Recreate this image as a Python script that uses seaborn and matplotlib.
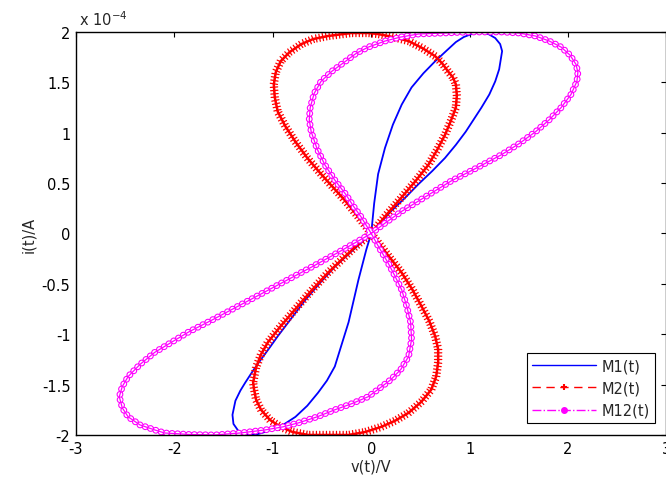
import numpy as np
import matplotlib
matplotlib.use("Agg")
import matplotlib.pyplot as plt
import matplotlib.patheffects as pe
from matplotlib.lines import Line2D
import seaborn as sns

# M1(t) - blue loop, v in V, i in 1e-4 A
v_m1 = [0, 0.03, 0.07, 0.14, 0.22, 0.31, 0.41, 0.53, 0.65, 0.76, 0.86, 0.94, 1.02, 1.10, 1.19, 1.26,
        1.31, 1.33, 1.32, 1.30, 1.26, 1.20, 1.12, 1.04, 0.96, 0.86, 0.75, 0.62, 0.48, 0.34, 0.20, 0.08, 0,
        -0.05, -0.13, -0.23, -0.30, -0.37, -0.45, -0.54, -0.65, -0.77, -0.88, -0.98, -1.08, -1.18, -1.27,
        -1.35, -1.40, -1.41, -1.38, -1.33, -1.28, -1.20, -1.12, -1.03, -0.95, -0.81, -0.67, -0.52, -0.37,
        -0.18, 0]
i_m1 = [0, 0.30, 0.59, 0.85, 1.08, 1.28, 1.45, 1.59, 1.71, 1.81, 1.90, 1.95, 1.98, 1.995, 1.98, 1.94,
        1.88, 1.81, 1.75, 1.63, 1.51, 1.38, 1.25, 1.13, 1.01, 0.88, 0.75, 0.62, 0.49, 0.35, 0.22, 0.09, 0,
        -0.16, -0.46, -0.88, -1.10, -1.32, -1.46, -1.58, -1.71, -1.82, -1.89, -1.93, -1.97, -2.0, -1.99,
        -1.96, -1.89, -1.80, -1.66, -1.56, -1.48, -1.36, -1.25, -1.13, -1.02, -0.84, -0.66, -0.49, -0.33,
        -0.16, 0]

# M2(t) - red loop
v_m2 = [0, 0.15, 0.31, 0.45, 0.58, 0.67, 0.75, 0.81, 0.86, 0.87, 0.86, 0.83, 0.78, 0.72, 0.65, 0.52,
        0.38, 0.22, 0.07, -0.03, -0.20, -0.44, -0.59, -0.71, -0.83, -0.92, -0.97, -0.99, -0.98, -0.95,
        -0.87, -0.77, -0.65, -0.51, -0.38, -0.26, -0.12, 0,
        0.15, 0.31, 0.42, 0.51, 0.59, 0.65, 0.68, 0.68, 0.66, 0.61, 0.51, 0.38, 0.24, 0.10, -0.06, -0.23,
        -0.44, -0.64, -0.80, -0.92, -1.03, -1.12, -1.17, -1.19, -1.20, -1.17, -1.12, -1.05, -0.92, -0.77,
        -0.61, -0.44, -0.30, -0.16, 0]
i_m2 = [0, 0.18, 0.36, 0.52, 0.68, 0.83, 0.98, 1.12, 1.25, 1.37, 1.48, 1.55, 1.61, 1.69, 1.76, 1.84,
        1.91, 1.95, 1.98, 1.99, 1.99, 1.96, 1.93, 1.88, 1.80, 1.71, 1.60, 1.48, 1.35, 1.21,
        1.06, 0.91, 0.75, 0.59, 0.45, 0.32, 0.15, 0,
        -0.19, -0.39, -0.56, -0.72, -0.87, -1.02, -1.15, -1.28, -1.42, -1.55, -1.67, -1.78, -1.86, -1.92,
        -1.97, -2.0, -2.0, -2.0, -1.97, -1.92, -1.85, -1.75, -1.65, -1.55, -1.48, -1.33, -1.20, -1.08,
        -0.92, -0.75, -0.57, -0.39, -0.26, -0.13, 0]

# M12(t) - magenta loop
v_m12 = [0, 0.15, 0.31, 0.56, 0.81, 1.07, 1.32, 1.50, 1.67, 1.81, 1.93, 2.03, 2.09, 2.10, 2.08, 2.02,
         1.93, 1.81, 1.67, 1.50, 1.32, 1.15, 0.99, 0.74, 0.48, 0.30, 0.14, -0.03, -0.15, -0.26, -0.40,
         -0.51, -0.58, -0.62, -0.63, -0.61, -0.55, -0.47, -0.37, -0.26, -0.18, -0.10, 0,
         0.08, 0.17, 0.24, 0.31, 0.36, 0.40, 0.41, 0.38, 0.30, 0.20, 0.08, -0.03, -0.20, -0.37, -0.55,
         -0.74, -0.90, -1.08, -1.33, -1.59, -1.85, -2.10, -2.20, -2.35, -2.47, -2.53, -2.56, -2.53, -2.47,
         -2.35, -2.20, -2.03, -1.86, -1.60, -1.35, -1.10, -0.85, -0.60, -0.34, -0.16, 0]
i_m12 = [0, 0.11, 0.22, 0.37, 0.52, 0.65, 0.78, 0.89, 1.01, 1.13, 1.25, 1.38, 1.51, 1.60, 1.68, 1.77,
         1.85, 1.91, 1.96, 1.99, 2.0, 2.0, 2.0, 1.99, 1.98, 1.95, 1.91, 1.85, 1.79, 1.71, 1.61,
         1.51, 1.39, 1.25, 1.13, 1.01, 0.84, 0.68, 0.53, 0.39, 0.27, 0.16, 0,
         -0.14, -0.29, -0.42, -0.56, -0.72, -0.88, -1.05, -1.22, -1.35, -1.45, -1.54, -1.62, -1.69, -1.75,
         -1.82, -1.88, -1.92, -1.95, -1.98, -2.0, -1.995, -1.98, -1.95, -1.90, -1.82, -1.73, -1.62, -1.52,
         -1.42, -1.30, -1.18, -1.08, -0.98, -0.85, -0.72, -0.59, -0.46, -0.33, -0.19, -0.09, 0]

x_ticks = [-3, -2, -1, 0, 1, 2, 3]
y_ticks = [-2, -1.5, -1, -0.5, 0, 0.5, 1, 1.5, 2]
y_tick_labels = ["-2", "-1.5", "-1", "-0.5", "0", "0.5", "1", "1.5", "2"]
names = ["M1(t)", "M2(t)", "M12(t)"]

sns.set_style("white")
plt.rcParams["font.family"] = ["DejaVu Sans"]
plt.rcParams["mathtext.fontset"] = "dejavusans"
plt.rcParams["axes.unicode_minus"] = False
plt.rcParams["lines.scale_dashes"] = False

FS = 10.5

fig = plt.figure(figsize=(6.66, 4.81), dpi=100)
ax = fig.add_axes([0.1141, 0.0936, 0.8866, 0.8378])

# blue
sns.lineplot(x=v_m1, y=i_m1, sort=False, estimator=None, color="#0000ff", lw=1.3, ax=ax)

# red with '+' texture
sns.lineplot(x=v_m2, y=i_m2, sort=False, estimator=None, color="#ff0000", lw=1.0, ax=ax)
red_line = ax.lines[-1]
red_line.set_path_effects([
    pe.TickedStroke(spacing=2.4, angle=90, length=1.1, linewidth=0.9),
    pe.TickedStroke(spacing=2.4, angle=-90, length=1.1, linewidth=0.9),
    pe.Stroke(linewidth=1.8),
])

# magenta with ring markers
sns.lineplot(x=v_m12, y=i_m12, sort=False, estimator=None, color="#ff00ff", lw=5.0,
             linestyle=(0, (0.01, 4.0)), dash_capstyle="round", ax=ax)
sns.lineplot(x=v_m12, y=i_m12, sort=False, estimator=None, color="white", lw=3.4,
             linestyle=(0, (0.01, 4.0)), dash_capstyle="round", ax=ax)
sns.lineplot(x=v_m12, y=i_m12, sort=False, estimator=None, color="#ff00ff", lw=0.9, ax=ax)

ax.set_xlim(-3, 3)
ax.set_ylim(-2, 2)
ax.set_xticks(x_ticks)
ax.set_xticklabels([str(t) for t in x_ticks])
ax.set_yticks(y_ticks)
ax.set_yticklabels(y_tick_labels)
ax.tick_params(direction="in", length=3.5, width=0.8, top=True, right=True,
               labelsize=FS, colors="black", pad=4)
for s in ax.spines.values():
    s.set_visible(True)
    s.set_color("black")
    s.set_linewidth(1.0)

ax.set_xlabel("v(t)/V", fontsize=FS, labelpad=2)
ax.set_ylabel("i(t)/A", fontsize=FS, labelpad=4)
ax.text(0.005, 1.01, r"x 10$^{-4}$", transform=ax.transAxes, fontsize=FS, va="bottom", ha="left")

handles = [
    Line2D([], [], color="#0000ff", lw=1.0),
    Line2D([], [], color="#ff0000", lw=1.0, ls=(0, (6, 4)), marker="+", ms=5, mew=1.5),
    Line2D([], [], color="#ff00ff", lw=1.0, ls="-.", marker="o", ms=4),
]
leg = ax.legend(handles, names, loc="lower right", bbox_to_anchor=(0.981, 0.03), fontsize=FS,
                frameon=True, fancybox=False, framealpha=1, edgecolor="black", handlelength=4.4,
                handletextpad=0.4, labelspacing=0.5, borderpad=0.35, borderaxespad=0, numpoints=1)
leg.get_frame().set_linewidth(0.8)

fig.savefig("out.png", dpi=100)
